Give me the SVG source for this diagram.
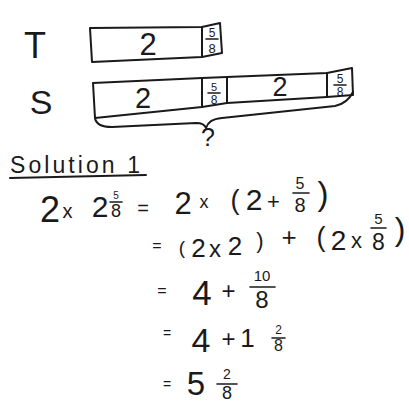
<svg xmlns="http://www.w3.org/2000/svg" width="409" height="403" viewBox="0 0 409 403">
<style>
  .ln{fill:none;stroke:#1a1a1a;stroke-width:2;stroke-linecap:round;stroke-linejoin:round}
  .bar{fill:none;stroke:#1a1a1a;stroke-width:1.6;stroke-linecap:round}
  text{font-family:"Liberation Sans","DejaVu Sans",sans-serif;fill:#1a1a1a;text-anchor:middle}
  text.st{text-anchor:start}
</style>
<rect width="409" height="403" fill="#ffffff"/>

<g id="label-T">
  <text x="35" y="58" font-size="36">T</text>
</g>
<g id="tape-T">
  <path class="ln" d="M90,28 L202,27 L220,23 L222,53 L202,57 L92,62 Z"/>
  <path class="ln" d="M202,27 L202,57"/>
  <text x="148" y="55" font-size="31">2</text>
  <text x="212" y="37" font-size="12">5</text>
  <path class="bar" d="M206,39 L218,39"/>
  <text x="212" y="53" font-size="13">8</text>
</g>

<g id="label-S">
  <text x="41" y="114" font-size="34">S</text>
</g>
<g id="tape-S">
  <path class="ln" d="M93,83 L202,78 L227,77 L327,73 L352,68 L353,95 L327,97 L227,103 L202,107 L95,118 Z"/>
  <path class="ln" d="M202,78 L202,107 M227,77 L227,103 M327,73 L327,97"/>
  <text x="143" y="108" font-size="29">2</text>
  <text x="280" y="96" font-size="27">2</text>
  <text x="214" y="91" font-size="11">5</text>
  <path class="bar" d="M208,93 L220,93"/>
  <text x="214" y="104" font-size="12">8</text>
  <text x="340" y="83" font-size="12">5</text>
  <path class="bar" d="M334,85 L346,85"/>
  <text x="340" y="96" font-size="12">8</text>
  <path class="ln" d="M95,118 C96,124 101,127 112,127 L196,123 C202,123 205,125 206,128 C208,122 212,119 222,118 L335,106 C345,104 350,98 353,92"/>
  <text x="208" y="146" font-size="25">?</text>
</g>

<g id="solution">
  <text class="st" x="10" y="173" font-size="23" textLength="130" lengthAdjust="spacing">Solution 1</text>
  <path class="ln" d="M10,178 L146,175"/>

  <text x="50" y="222" font-size="36">2</text>
  <text x="67.5" y="218" font-size="20">x</text>
  <text x="100" y="217" font-size="30">2</text>
  <text x="116" y="199" font-size="10">5</text>
  <path class="bar" d="M110,202 L122,202"/>
  <text x="116" y="217" font-size="18">8</text>
  <text x="143" y="215" font-size="20">=</text>
  <text x="183" y="214" font-size="31">2</text>
  <text x="204" y="208" font-size="18">x</text>
  <text x="235" y="209" font-size="27">(</text>
  <text x="254" y="210" font-size="30">2</text>
  <text x="273.5" y="209" font-size="22">+</text>
  <text x="300" y="189" font-size="16">5</text>
  <path class="bar" d="M293,193 L309,193"/>
  <text x="300" y="212" font-size="20">8</text>
  <text x="323" y="205" font-size="33">)</text>

  <text x="157" y="251" font-size="16">=</text>
  <text x="182" y="254" font-size="19">(</text>
  <text x="198.5" y="257" font-size="26">2</text>
  <text x="215" y="257" font-size="24">x</text>
  <text x="235" y="255" font-size="26">2</text>
  <text x="260" y="248" font-size="22">)</text>
  <text x="289" y="246" font-size="26">+</text>
  <text x="321" y="246" font-size="27">(</text>
  <text x="338.5" y="250" font-size="28">2</text>
  <text x="356.5" y="248" font-size="22">x</text>
  <text x="378.5" y="224" font-size="15">5</text>
  <path class="bar" d="M371,228 L386,228"/>
  <text x="378.5" y="250" font-size="23">8</text>
  <text x="400" y="240" font-size="32">)</text>

  <text x="162" y="296" font-size="16">=</text>
  <text x="202" y="305" font-size="35">4</text>
  <text x="228.5" y="299" font-size="24">+</text>
  <text x="262" y="281" font-size="15">10</text>
  <path class="bar" d="M250,287 L275,287"/>
  <text x="262" y="308" font-size="24">8</text>

  <text x="167" y="338" font-size="14">=</text>
  <text x="201" y="352" font-size="34">4</text>
  <text x="228.5" y="347" font-size="24">+</text>
  <text x="247.5" y="347" font-size="26">1</text>
  <text x="278.5" y="334" font-size="12">2</text>
  <path class="bar" d="M272,338 L285,338"/>
  <text x="278.5" y="351" font-size="16">8</text>

  <text x="167" y="389" font-size="14">=</text>
  <text x="196" y="395" font-size="33">5</text>
  <text x="227" y="379" font-size="14">2</text>
  <path class="bar" d="M217,384 L237,384"/>
  <text x="227" y="399" font-size="18">8</text>
</g>
</svg>
